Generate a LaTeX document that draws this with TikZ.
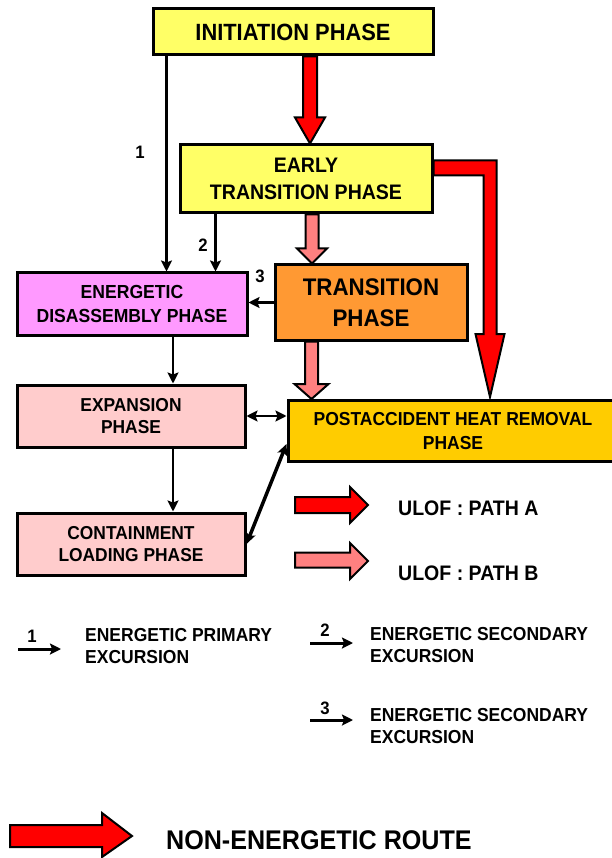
\documentclass[tikz,border=0pt]{standalone}
\usepackage{fontspec}
\setmainfont{Liberation Sans}[FakeStretch=0.93]
\usetikzlibrary{arrows.meta,calc}

\definecolor{boxyellow}{HTML}{FFFF66}
\definecolor{boxmagenta}{HTML}{FF99FF}
\definecolor{boxpink}{HTML}{FFCCCC}
\definecolor{boxorange}{HTML}{FF9933}
\definecolor{boxgold}{HTML}{FFCC00}
\definecolor{pathred}{HTML}{FF0000}
\definecolor{pathpink}{HTML}{FF8080}

\tikzset{
  phase/.style={draw, line width=3pt, inner sep=0pt, align=center},
  conn/.style={line width=2.5pt, -{Stealth[length=11pt,width=11pt,inset=2pt]}},
  fatarrow/.style={draw, line width=2pt, line join=miter},
  numlabel/.style={font=\bfseries\fontsize{18}{18}\selectfont},
  legtext/.style={anchor=west, inner sep=0pt, align=left, font=\bfseries\fontsize{18.8}{22.5}\selectfont}
}

% fat down arrow: fill, from, to, shaft half width, head half width, head length
\newcommand{\fatdown}[6]{%
  \draw[fatarrow, fill=#1] let \p1=#2, \p2=#3 in
    (\x1-#4,\y1) -- (\x1+#4,\y1) -- (\x1+#4,\y2+#6) -- (\x1+#5,\y2+#6)
    -- (\x1,\y2) -- (\x1-#5,\y2+#6) -- (\x1-#4,\y2+#6) -- cycle;}

\begin{document}
\begin{tikzpicture}[x=1pt, y=-1pt]
\useasboundingbox (0,0) rectangle (612,858);

% phases
\node[phase, fill=boxyellow, minimum width=280pt, minimum height=46pt,
  font=\bfseries\fontsize{23.5}{28}\selectfont] (init) at (293,32) {INITIATION PHASE};
\node[phase, fill=boxyellow, minimum width=252pt, minimum height=68pt,
  font=\bfseries\fontsize{21}{27}\selectfont] (etp) at (306,179) {EARLY\\TRANSITION PHASE};
\node[phase, fill=boxorange, minimum width=192pt, minimum height=75pt,
  font=\bfseries\fontsize{24}{31}\selectfont] (trans) at (371,302.5) {TRANSITION\\PHASE};
\node[phase, fill=boxmagenta, minimum width=230pt, minimum height=62pt,
  font=\bfseries\fontsize{18.9}{24}\selectfont] (ener) at (132,304) {ENERGETIC\\DISASSEMBLY PHASE};
\node[phase, fill=boxpink, minimum width=228pt, minimum height=62pt,
  font=\bfseries\fontsize{18.7}{22}\selectfont] (expan) at (131,416) {EXPANSION\\PHASE};
\node[phase, fill=boxgold, minimum width=330pt, minimum height=61pt,
  font=\bfseries\fontsize{18.8}{24}\selectfont] (post) at (453,431) {POSTACCIDENT HEAT REMOVAL\\PHASE};
\node[phase, fill=boxpink, minimum width=228pt, minimum height=62pt,
  font=\bfseries\fontsize{18.7}{22}\selectfont] (cont) at (131,544) {CONTAINMENT\\LOADING PHASE};

% energetic excursions
\draw[conn] ([xshift=15pt]init.south west) -- ([xshift=15pt]init.south west |- ener.north);
\node[numlabel] (n1) at (140,152) {1};
\draw[conn] ([xshift=37pt]etp.south west) -- ([xshift=37pt]etp.south west |- ener.north);
\node[numlabel] (n2) at (203,245) {2};
\draw[conn] (trans.west) -- (trans.west -| ener.east);
\node[numlabel] (n3) at (260,276) {3};

\draw[conn] ([xshift=41pt]ener.south) -- ([xshift=41pt]ener.south |- expan.north);
\draw[conn] ([xshift=42pt]expan.south) -- ([xshift=42pt]expan.south |- cont.north);
\draw[conn, {Stealth[length=11pt,width=11pt,inset=2pt]}-{Stealth[length=11pt,width=11pt,inset=2pt]}]
  (expan.east) -- (expan.east -| post.west);
\draw[line width=3.5pt, {Stealth[length=11pt,width=10pt,inset=2pt]}-{Stealth[length=11pt,width=10pt,inset=2pt]}]
  (cont.east) -- ([yshift=19pt]post.south west);

% ulof paths
\fatdown{pathred}{([xshift=17pt]init.south)}{(etp.north)}{7pt}{15pt}{26pt}
\fatdown{pathpink}{([xshift=6pt]etp.south)}{(trans.north)}{6.5pt}{15pt}{15pt}
\fatdown{pathpink}{([xshift=-59.5pt]trans.south)}{(post.north)}{6.5pt}{17pt}{15pt}
\draw[fatarrow, fill=pathred] let \p1=(etp.north east), \p2=(post.north) in
  (\x1,\y1-17pt) -- (\x1+63pt,\y1-17pt) -- (\x1+63pt,\y2+65pt) -- (\x1+71pt,\y2+65pt)
  -- (\x1+56.5pt,\y2+2pt) -- (\x1+42pt,\y2+65pt) -- (\x1+50pt,\y2+65pt)
  -- (\x1+50pt,\y1-32pt) -- (\x1,\y1-32pt) -- cycle;

% legend
\draw[fatarrow, fill=pathred] (295,497) -- (350,497) -- (350,487) -- (368,505)
  -- (350,523) -- (350,513) -- (295,513) -- cycle;
\node[anchor=west, inner sep=0pt, font=\bfseries\fontsize{21}{21}\selectfont] (pa) at (398,508) {ULOF : PATH A};
\draw[fatarrow, fill=pathpink] (295,552.5) -- (350,552.5) -- (350,543) -- (368,561)
  -- (350,579) -- (350,567.5) -- (295,567.5) -- cycle;
\node[anchor=west, inner sep=0pt, font=\bfseries\fontsize{21}{21}\selectfont] (pb) at (398,573) {ULOF : PATH B};

\coordinate (l1a) at (18,649);
\coordinate (l1b) at (61,649);
\draw[conn, line width=3pt] (l1a) -- (l1b);
\node[numlabel] (k1) at (32,636) {1};
\node[legtext] (t1) at (85,646) {ENERGETIC PRIMARY\\EXCURSION};

\coordinate (l2a) at (310,643);
\coordinate (l2b) at (353,643);
\draw[conn, line width=3pt] (l2a) -- (l2b);
\node[numlabel] (k2) at (325,630) {2};
\node[legtext] (t2) at (370,645) {ENERGETIC SECONDARY\\EXCURSION};

\coordinate (l3a) at (310,720);
\coordinate (l3b) at (353,720);
\draw[conn, line width=3pt] (l3a) -- (l3b);
\node[numlabel] (k3) at (325,708) {3};
\node[legtext] (t3) at (370,726) {ENERGETIC SECONDARY\\EXCURSION};

\draw[fatarrow, fill=pathred] (10,825) -- (102,825) -- (102,813) -- (132,836)
  -- (102,857) -- (102,847) -- (10,847) -- cycle;
\node[anchor=west, inner sep=0pt, font=\bfseries\fontsize{27}{27}\selectfont] (ner) at (166,840) {NON-ENERGETIC ROUTE};
\end{tikzpicture}
\end{document}
